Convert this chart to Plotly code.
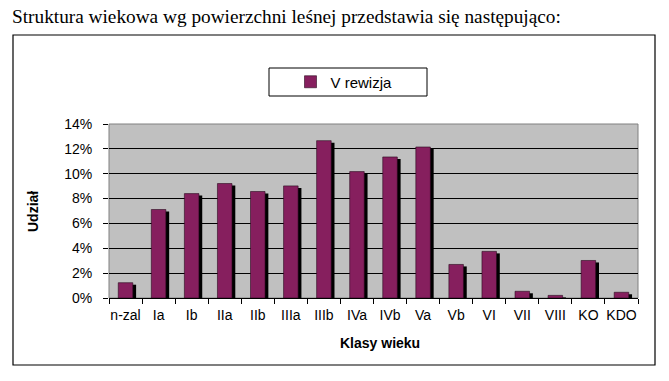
import plotly.graph_objects as go

categories = ["n-zal", "Ia", "Ib", "IIa", "IIb", "IIIa", "IIIb", "IVa", "IVb", "Va",
              "Vb", "VI", "VII", "VIII", "KO", "KDO"]
udzial = [0.0123, 0.0712, 0.0840, 0.0921, 0.0857, 0.0902, 0.1266, 0.1017, 0.1135, 0.1215,
          0.0270, 0.0375, 0.0054, 0.0021, 0.0302, 0.0046]
series_name = "V rewizja"
y_ticks = [0, 0.02, 0.04, 0.06, 0.08, 0.10, 0.12, 0.14]
y_tick_labels = ["0%", "2%", "4%", "6%", "8%", "10%", "12%", "14%"]
title_text = "Struktura wiekowa wg powierzchni leśnej przedstawia się następująco:"
x_title = "Klasy wieku"
y_title = "Udział"

W, H = 669, 381
L, R, T, B = 109, 638, 124, 298  # plot area pixel box


def px(x):
    return (x - L) / (R - L)


def py(y):
    return (B - y) / (B - T)


fig = go.Figure()
# shadow
fig.add_trace(go.Bar(
    x=categories, y=udzial, base=-0.0016, width=0.44, offset=-0.12,
    marker=dict(color="black", line=dict(width=0)), showlegend=False, hoverinfo="skip"))
# main bars
fig.add_trace(go.Bar(
    x=categories, y=udzial, width=0.44, offset=-0.22, name=series_name,
    marker=dict(color="#861F5E", line=dict(color="#2a0a1e", width=0.6)), showlegend=True))

fig.update_layout(
    width=W, height=H,
    margin=dict(l=L, r=W - R, t=T, b=H - B, pad=0, autoexpand=False),
    paper_bgcolor="white", plot_bgcolor="#C0C0C0",
    barmode="overlay",
    font=dict(family="Liberation Sans, Arial", size=14, color="black"),
    showlegend=True,
    legend=dict(x=px(344), y=py(82), xanchor="center", yanchor="middle",
                bgcolor="rgba(0,0,0,0)", borderwidth=0,
                font=dict(family="Liberation Sans, Arial", size=15)),
    xaxis=dict(type="category", tickson="boundaries", ticks="outside", ticklen=5,
               tickcolor="black", showline=True, linecolor="black", linewidth=1,
               showgrid=False, tickfont=dict(size=14), ticklabelstandoff=4,
               tickangle=0, automargin=False,
               range=[-0.5, len(categories) - 0.5]),
    yaxis=dict(range=[0, 0.14], tickvals=y_ticks, ticktext=y_tick_labels,
               showgrid=True, gridcolor="black", gridwidth=1, zeroline=False,
               showline=False, ticks="outside", ticklen=5, tickcolor="black",
               ticklabelstandoff=8, tickfont=dict(size=14), automargin=False),
    shapes=[
        dict(type="rect", xref="paper", yref="paper", x0=0, x1=1, y0=0, y1=1,
             line=dict(color="#808080", width=1), layer="below"),
        dict(type="rect", xref="paper", yref="paper", x0=px(13), x1=px(655),
             y0=py(365), y1=py(35), line=dict(color="black", width=1.2)),
        dict(type="rect", xref="paper", yref="paper", x0=px(269), x1=px(427),
             y0=py(96), y1=py(68), line=dict(color="black", width=1)),
    ],
    annotations=[
        dict(text=title_text, xref="paper", yref="paper", x=px(10), y=py(16),
             xanchor="left", yanchor="middle", showarrow=False,
             font=dict(family="Liberation Serif, Times New Roman", size=19.3, color="black")),
        dict(text="<b>" + y_title + "</b>", xref="paper", yref="paper", x=px(33), y=py(212),
             xanchor="center", yanchor="middle", textangle=-90, showarrow=False,
             font=dict(size=14)),
        dict(text="<b>" + x_title + "</b>", xref="paper", yref="paper", x=px(380), y=py(343),
             xanchor="center", yanchor="middle", showarrow=False, font=dict(size=14)),
    ],
)

fig.write_html("out.html", config={"displayModeBar": False},
               post_script="document.body.style.margin='0';document.body.style.overflow='hidden';")
